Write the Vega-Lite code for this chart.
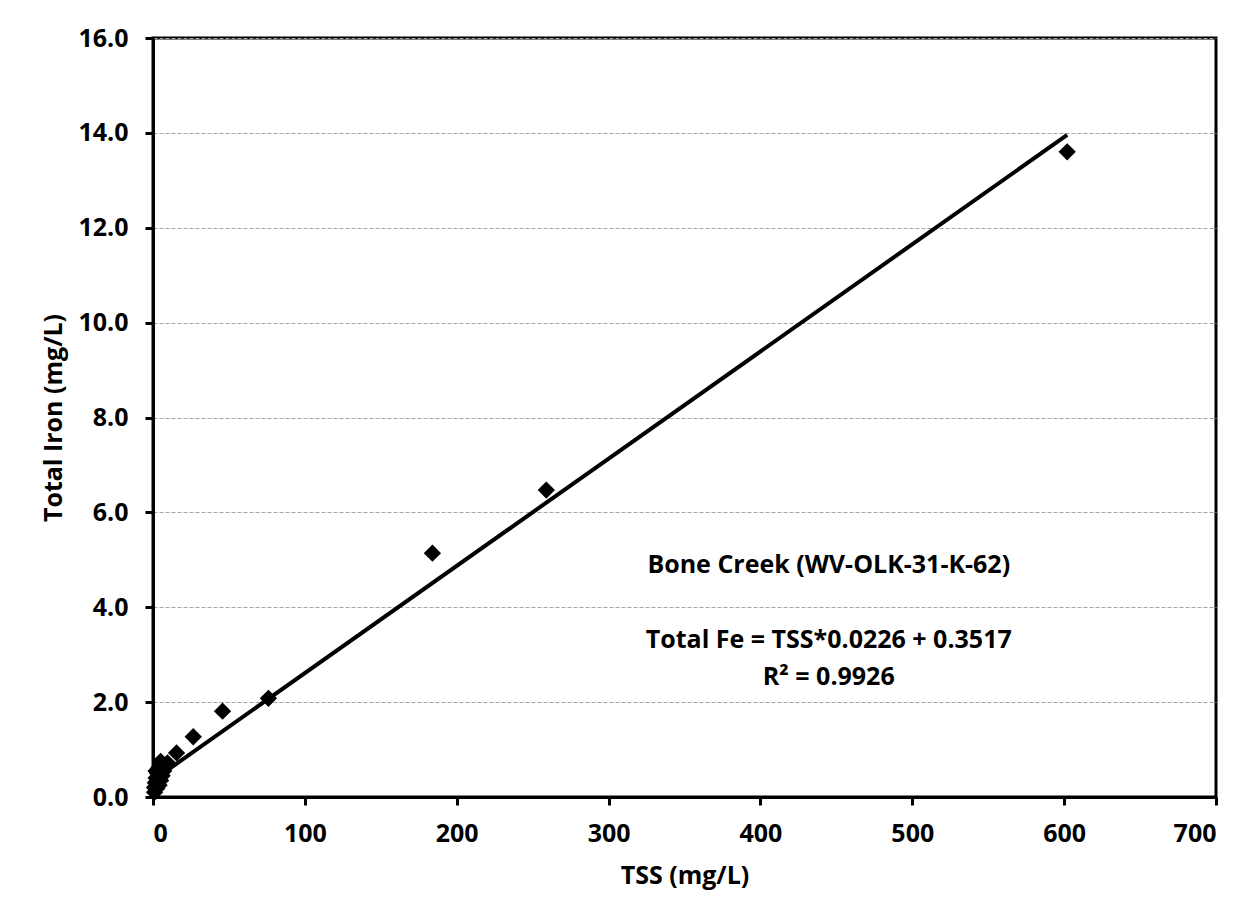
{
  "$schema": "https://vega.github.io/schema/vega-lite/v6.json",
  "width": 1063,
  "height": 759,
  "autosize": {"type": "none"},
  "padding": {"left": 153, "top": 38, "right": 32, "bottom": 112},
  "background": "white",
  "config": {
    "font": "Open Sans",
    "view": {"stroke": "black", "strokeWidth": 3},
    "axis": {
      "labelFont": "Open Sans",
      "labelFontSize": 25,
      "labelFontWeight": "bold",
      "labelColor": "black",
      "titleFont": "Open Sans",
      "titleFontSize": 25,
      "titleFontWeight": "bold",
      "titleColor": "black",
      "domainColor": "black",
      "domainWidth": 3,
      "tickColor": "black",
      "tickWidth": 3,
      "tickSize": 8
    }
  },
  "datasets": {
    "obs": [
      {"tss": 602, "fe": 13.6},
      {"tss": 259, "fe": 6.47},
      {"tss": 184, "fe": 5.14},
      {"tss": 76, "fe": 2.08},
      {"tss": 45.8, "fe": 1.81},
      {"tss": 26.5, "fe": 1.27},
      {"tss": 15.5, "fe": 0.93},
      {"tss": 9.5, "fe": 0.72},
      {"tss": 5, "fe": 0.75},
      {"tss": 4, "fe": 0.62},
      {"tss": 3, "fe": 0.5},
      {"tss": 7, "fe": 0.55},
      {"tss": 6, "fe": 0.45},
      {"tss": 2, "fe": 0.4},
      {"tss": 1.5, "fe": 0.3},
      {"tss": 3, "fe": 0.3},
      {"tss": 1, "fe": 0.2},
      {"tss": 2.5, "fe": 0.18},
      {"tss": 4, "fe": 0.25},
      {"tss": 1, "fe": 0.1},
      {"tss": 2, "fe": 0.55},
      {"tss": 5, "fe": 0.35}
    ],
    "fit": [
      {"tss": 1, "fe": 0.374},
      {"tss": 602, "fe": 13.957}
    ],
    "notes": [
      {"tss": 445, "fe": 4.89, "label": "Bone Creek (WV-OLK-31-K-62)"},
      {"tss": 445, "fe": 3.31, "label": "Total Fe = TSS*0.0226 + 0.3517"},
      {"tss": 445, "fe": 2.53, "label": "R² = 0.9926"}
    ]
  },
  "layer": [
    {
      "data": {"name": "fit"},
      "mark": {"type": "line", "color": "black", "strokeWidth": 4},
      "encoding": {
        "x": {
          "field": "tss", "type": "quantitative",
          "scale": {"domain": [0, 700], "nice": false},
          "axis": {
            "values": [0, 100, 200, 300, 400, 500, 600, 700],
            "title": "TSS (mg/L)",
            "grid": false,
            "labelPadding": 16,
            "titlePadding": 17
          }
        },
        "y": {
          "field": "fe", "type": "quantitative",
          "scale": {"domain": [0, 16], "nice": false},
          "axis": {
            "values": [0, 2, 4, 6, 8, 10, 12, 14, 16],
            "format": ".1f",
            "title": "Total Iron (mg/L)",
            "grid": true,
            "gridColor": "#a6a6a6",
            "gridDash": [4, 2],
            "gridWidth": 1.2,
            "labelPadding": 17,
            "titlePadding": 11
          }
        }
      }
    },
    {
      "data": {"name": "obs"},
      "mark": {"type": "point", "shape": "diamond", "filled": true, "color": "black", "opacity": 1, "size": 300},
      "encoding": {
        "x": {"field": "tss", "type": "quantitative"},
        "y": {"field": "fe", "type": "quantitative"}
      }
    },
    {
      "data": {"name": "notes"},
      "mark": {"type": "text", "font": "Open Sans", "fontSize": 25, "fontWeight": "bold", "color": "black", "align": "center", "baseline": "middle"},
      "encoding": {
        "x": {"field": "tss", "type": "quantitative"},
        "y": {"field": "fe", "type": "quantitative"},
        "text": {"field": "label"}
      }
    }
  ]
}
